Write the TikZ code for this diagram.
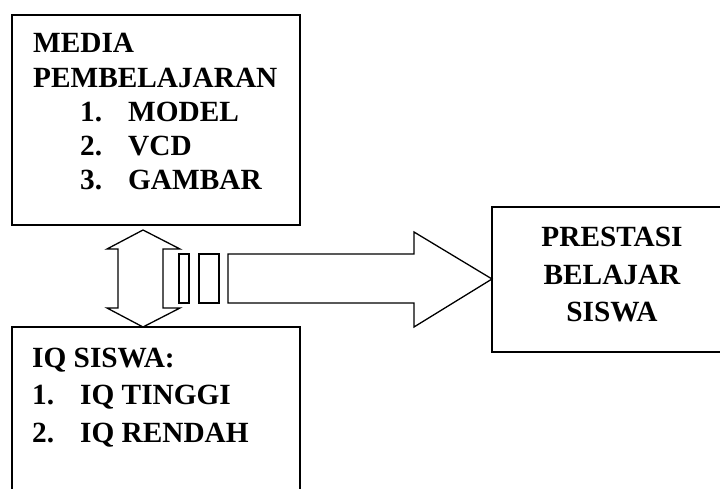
\documentclass[tikz,border=0pt]{standalone}
\usepackage{fontspec}
\setmainfont{Liberation Serif}
\begin{document}
\begin{tikzpicture}[x=1pt,y=-1pt,
  boxline/.style={draw=black,line width=2pt},
  arr/.style={draw=black,line width=1.3pt,line join=miter,fill=white},
  txt/.style={anchor=base west,inner sep=0pt,font=\fontsize{29.3}{34}\selectfont\bfseries},
  ctxt/.style={anchor=base,inner sep=0pt,font=\fontsize{29.3}{34}\selectfont\bfseries}]
\useasboundingbox (0,0) rectangle (720,489);
% top box
\draw[boxline] (12,15) rectangle (300,225);
\node[txt] (m1) at (33,53) {MEDIA};
\node[txt] (m2) at (33,88) {PEMBELAJARAN};
\node[txt] (n1) at (80,122) {1.};
\node[txt] (i1) at (128,122) {MODEL};
\node[txt] (n2) at (80,156) {2.};
\node[txt] (i2) at (128,156) {VCD};
\node[txt] (n3) at (80,190) {3.};
\node[txt] (i3) at (128,190) {GAMBAR};
% bottom box (open at bottom)
\draw[boxline] (12,495) -- (12,327) -- (300,327) -- (300,495);
\node[txt] (q0) at (32,367) {IQ SISWA:};
\node[txt] (q1n) at (32,404) {1.};
\node[txt] (q1) at (80,404) {IQ TINGGI};
\node[txt] (q2n) at (32,442) {2.};
\node[txt] (q2) at (80,442) {IQ RENDAH};
% right box (open at right)
\draw[boxline] (725,207) -- (492,207) -- (492,352) -- (725,352);
\node[ctxt] (p1) at (612,247) {PRESTASI};
\node[ctxt] (p2) at (612,284) {BELAJAR};
\node[ctxt] (p3) at (612,321) {SISWA};
% double arrow
\draw[arr] (143,230) -- (180,249) -- (163,249) -- (163,308) -- (180,308) -- (143,327)
  -- (107,308) -- (118,308) -- (118,249) -- (107,249) -- cycle;
% striped right arrow
\draw[arr] (179,254) rectangle (189,303);
\draw[arr] (199,254) rectangle (219,303);
\draw[arr] (228,254) -- (414,254) -- (414,232) -- (492,279) -- (414,327) -- (414,303) -- (228,303) -- cycle;
\end{tikzpicture}
\end{document}
